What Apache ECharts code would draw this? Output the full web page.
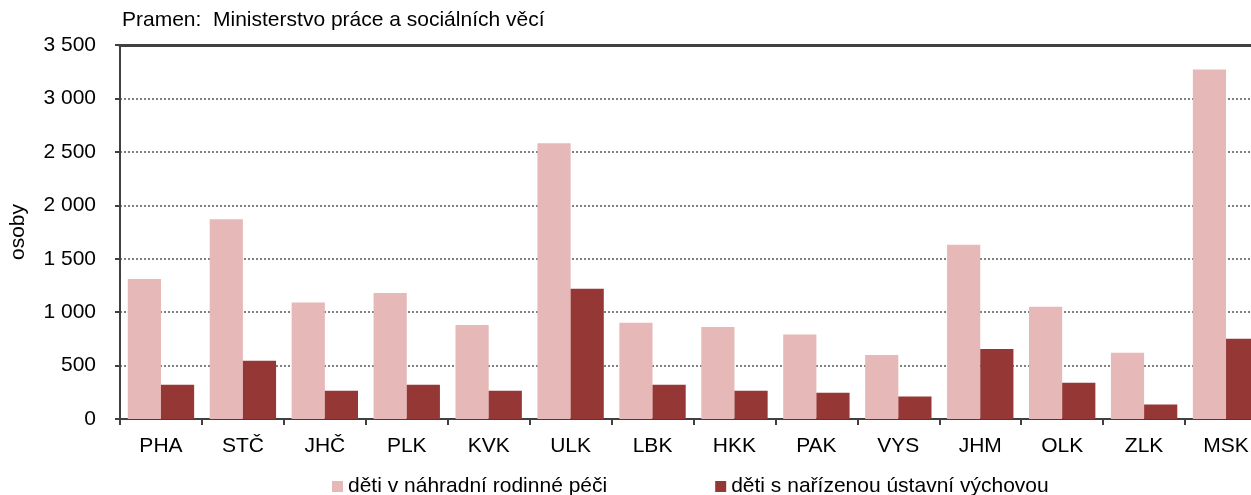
<!DOCTYPE html>
<html style="height: 100%">
<head>
  <meta charset="utf-8">
  <title>Děti v náhradní rodinné péči a v ústavní výchově</title>
</head>
<body style="height: 100%; margin: 0">
<div id="container" style="width: 1251px; height: 495px"></div>
<script type="text/javascript" src="https://cdn.jsdelivr.net/npm/echarts@6/dist/echarts.min.js"></script>
<script type="text/javascript">
  let dom = document.getElementById("container");
  let myChart = echarts.init(dom);

  // kraje
  let regions = ['PHA', 'STČ', 'JHČ', 'PLK', 'KVK', 'ULK', 'LBK', 'HKK', 'PAK', 'VYS', 'JHM', 'OLK', 'ZLK', 'MSK']
  // děti v náhradní rodinné péči
  let foster = [1310, 1870, 1090, 1180, 880, 2580, 900, 860, 790, 600, 1630, 1050, 620, 3270]
  // děti s nařízenou ústavní výchovou
  let institutional = [320, 545, 265, 320, 265, 1220, 320, 265, 245, 210, 655, 340, 135, 750]

  let fontName = 'Liberation Sans'
  let axisColor = '#404040'

  // mezera jako oddělovač tisíců
  let fmt = v => String(v).replace(/\B(?=(\d{3})+(?!\d))/g, ' ')

  let option = {
    backgroundColor: '#fff',
    textStyle: { fontFamily: fontName },
    title: {
      text: 'Pramen:  Ministerstvo práce a sociálních věcí',
      left: 117,
      top: 5,
      textStyle: { fontSize: 21, fontWeight: 'normal', color: '#000', fontFamily: fontName }
    },
    legend: {
      top: 476,
      left: 327,
      padding: [0, 5],
      itemGap: 108,
      itemTextGap: 11,
      icon: 'rect',
      itemWidth: 11,
      itemHeight: 11,
      textStyle: { fontSize: 21, color: '#000' },
      data: ['děti v náhradní rodinné péči', 'děti s nařízenou ústavní výchovou']
    },
    grid: { left: 120, right: -16, top: 45, bottom: 76, outerBoundsMode: 'none' },
    xAxis: [
      {
        type: 'category',
        data: regions,
        axisLine: { lineStyle: { color: axisColor, width: 2 } },
        axisTick: { show: true, length: 6, lineStyle: { color: axisColor, width: 2 } },
        axisLabel: { color: '#000', fontSize: 21, margin: 17 }
      },
      {
        // horní okraj grafu
        type: 'category',
        position: 'top',
        data: regions,
        axisLine: { lineStyle: { color: axisColor, width: 3 } },
        axisTick: { show: false },
        axisLabel: { show: false }
      }
    ],
    yAxis: {
      type: 'value',
      min: 0,
      max: 3500,
      interval: 500,
      name: 'osoby',
      nameLocation: 'middle',
      nameRotate: 90,
      nameGap: 91,
      nameTextStyle: { fontSize: 21, color: '#000' },
      axisLine: { show: true, lineStyle: { color: axisColor, width: 2 } },
      axisTick: { show: true, length: 5, lineStyle: { color: axisColor, width: 2 } },
      axisLabel: { color: '#000', fontSize: 21, margin: 24, formatter: fmt },
      splitLine: { lineStyle: { color: '#808080', type: [2, 2], width: 2 } }
    },
    series: [
      {
        name: 'děti v náhradní rodinné péči',
        type: 'bar',
        data: foster,
        barGap: '0%',
        barCategoryGap: '19%',
        itemStyle: { color: '#E6B8B7' }
      },
      {
        name: 'děti s nařízenou ústavní výchovou',
        type: 'bar',
        data: institutional,
        itemStyle: { color: '#953735' }
      }
    ]
  };

  myChart.setOption(option, true);
</script>
</body>
</html>
